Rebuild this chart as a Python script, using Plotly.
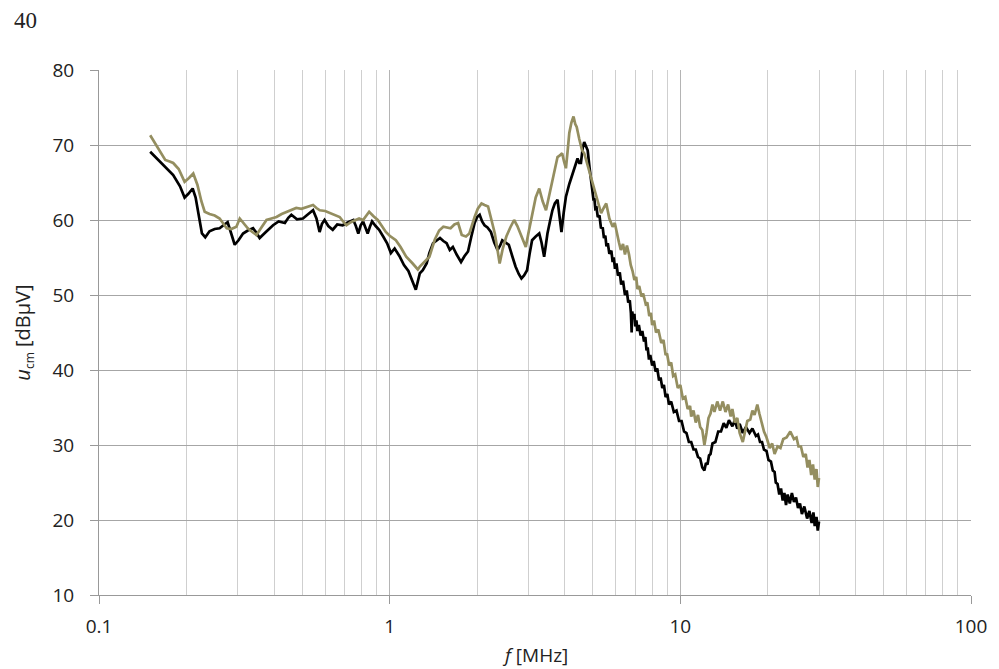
import plotly.graph_objects as go

# ---------------- data ----------------
black_f = [0.150, 0.160, 0.170, 0.180, 0.190, 0.197, 0.203, 0.210, 0.215, 0.220, 0.226, 0.232, 0.240, 0.250,
           0.260, 0.270, 0.277, 0.285, 0.293, 0.302, 0.313, 0.325, 0.339, 0.348, 0.357, 0.375, 0.397, 0.415,
           0.436, 0.448, 0.459, 0.480, 0.503, 0.525, 0.545, 0.560, 0.574, 0.585, 0.597, 0.615, 0.637, 0.660,
           0.689, 0.720, 0.750, 0.765, 0.780, 0.795, 0.810, 0.825, 0.840, 0.855, 0.870, 0.895, 0.920, 0.950,
           0.980, 1.01, 1.04, 1.08, 1.12, 1.16, 1.20, 1.23, 1.27, 1.30, 1.34, 1.37, 1.41, 1.45, 1.49, 1.53,
           1.57, 1.61, 1.65, 1.70, 1.76, 1.81, 1.86, 1.91, 1.96, 2.00, 2.04, 2.08, 2.12, 2.17, 2.23, 2.29,
           2.35, 2.40, 2.44, 2.50, 2.57, 2.64, 2.71, 2.78, 2.84, 2.90, 2.97, 3.03, 3.09, 3.18, 3.27, 3.33,
           3.40, 3.45, 3.49, 3.56, 3.63, 3.70, 3.78, 3.84, 3.90, 3.97, 4.04, 4.15, 4.26, 4.35, 4.43, 4.49,
           4.55, 4.61, 4.67, 4.74, 4.80, 4.87, 4.93,
           5.00, 5.03, 5.06, 5.10, 5.15, 5.20, 5.27, 5.33, 5.41, 5.46, 5.52, 5.57, 5.63, 5.70, 5.79, 5.85,
           5.90, 5.96, 6.03, 6.10, 6.19, 6.26, 6.35, 6.45, 6.54, 6.62, 6.70, 6.76, 6.80, 6.83, 6.89, 6.95,
           7.00, 7.06, 7.12, 7.20, 7.30, 7.40, 7.50, 7.58, 7.65, 7.72, 7.80, 7.88, 8.00, 8.10, 8.22, 8.33,
           8.45, 8.55, 8.67, 8.78, 8.90, 9.02, 9.14, 9.30, 9.50, 9.70, 9.90, 10.1, 10.3, 10.5, 10.7, 10.9,
           11.1, 11.3, 11.5, 11.7, 11.9, 12.1, 12.25, 12.4, 12.55, 12.7, 12.9, 13.2, 13.5, 13.8, 14.1, 14.4,
           14.7, 15.1, 15.4, 15.7, 16.0, 16.4, 16.8, 17.3, 17.7, 18.2, 18.5, 18.8, 19.1, 19.4, 19.8, 20.1,
           20.5, 20.8, 21.1, 21.3, 21.6, 21.9, 22.2, 22.5, 22.8, 23.1, 23.4, 23.8, 24.2, 24.6, 25.0, 25.4,
           25.8, 26.2, 26.7, 27.3, 27.8, 28.3, 28.7, 29.0, 29.4, 29.7, 30.0]
black_db = [69.1, 68.0, 67.0, 66.0, 64.5, 63.0, 63.5, 64.2, 63.0, 60.5, 58.2, 57.7, 58.5, 58.8,
            58.9, 59.4, 59.7, 58.2, 56.7, 57.3, 58.2, 58.6, 58.9, 58.3, 57.6, 58.4, 59.3, 59.8,
            59.6, 60.3, 60.7, 60.1, 60.2, 60.8, 61.3, 60.2, 58.4, 59.5, 60.0, 59.2, 58.7, 59.4,
            59.3, 59.7, 60.0, 59.2, 58.2, 59.3, 59.8, 59.0, 58.2, 59.1, 59.8, 59.2, 58.7, 57.8,
            56.9, 55.6, 56.2, 55.2, 54.0, 53.2, 51.8, 50.7, 52.9, 53.3, 54.2, 55.6, 56.9, 57.3, 57.6, 57.2,
            56.9, 56.0, 56.4, 55.4, 54.4, 55.2, 55.8, 57.8, 59.6, 60.4, 60.7, 59.8, 59.3, 59.0, 58.4, 57.0,
            56.0, 56.6, 57.3, 57.0, 56.7, 55.2, 53.8, 52.8, 52.2, 52.6, 53.3, 55.5, 57.3, 57.8, 58.2, 57.0,
            55.1, 56.8, 58.2, 59.8, 61.3, 62.2, 62.7, 60.5, 58.4, 61.0, 63.1, 64.8, 66.2, 67.5, 68.2, 67.6,
            67.6, 69.5, 70.4, 69.8, 69.3, 67.0, 65.1,
            63.5, 62.6, 62.9, 61.5, 61.6, 60.4, 60.6, 59.0, 58.9, 57.6, 57.9, 56.5, 56.9, 55.5, 55.9, 54.4,
            55.0, 53.5, 54.2, 52.6, 53.0, 51.4, 51.9, 50.0, 50.6, 49.0, 49.3, 47.6, 45.0, 47.8, 46.8, 47.5,
            45.8, 46.6, 45.2, 46.0, 44.6, 45.2, 43.8, 44.4, 42.6, 43.0, 41.4, 42.0, 40.6, 41.2, 39.8, 40.2,
            38.6, 39.0, 37.6, 38.0, 36.4, 36.8, 35.4, 35.8, 34.4, 34.6, 33.2, 33.2, 31.8, 31.6, 30.4, 30.4,
            29.4, 29.4, 28.4, 28.2, 27.0, 26.6, 27.6, 27.4, 28.6, 28.8, 30.2, 30.4, 31.8, 31.8, 32.9, 32.3,
            33.3, 32.5, 33.3, 32.2, 32.8, 31.6, 32.4, 31.6, 32.2, 31.2, 31.4, 30.4, 30.4, 29.4, 29.2, 28.0,
            27.8, 26.6, 26.4, 25.0, 24.8, 23.4, 24.2, 22.6, 23.6, 22.0, 23.4, 22.2, 23.6, 22.4, 23.0, 21.6,
            22.2, 20.8, 21.8, 20.2, 21.2, 19.6, 21.0, 19.2, 20.4, 18.6, 19.8]

tan_f = [0.150, 0.160, 0.169, 0.175, 0.180, 0.188, 0.197, 0.204, 0.211, 0.218, 0.225, 0.231, 0.240, 0.250,
         0.260, 0.268, 0.275, 0.285, 0.297, 0.305, 0.315, 0.325, 0.337, 0.348, 0.362, 0.377, 0.392, 0.408,
         0.425, 0.442, 0.460, 0.477, 0.497, 0.517, 0.532, 0.545, 0.560, 0.575, 0.600, 0.630, 0.652, 0.673,
         0.692, 0.710, 0.735, 0.760, 0.785, 0.810, 0.830, 0.850, 0.880, 0.910, 0.940, 0.970, 1.00, 1.05,
         1.09, 1.14, 1.20, 1.25, 1.27, 1.32, 1.37, 1.43, 1.48, 1.53, 1.58, 1.62, 1.67, 1.72, 1.77, 1.83,
         1.88, 1.92, 1.96, 2.01, 2.07, 2.12, 2.18, 2.24, 2.30, 2.35, 2.39, 2.45, 2.52, 2.60, 2.68, 2.75,
         2.82, 2.88, 2.94, 3.00, 3.09, 3.18, 3.27, 3.36, 3.45, 3.54, 3.63, 3.70, 3.78, 3.85, 3.92, 3.98,
         4.04, 4.10, 4.15, 4.22, 4.29, 4.35, 4.40, 4.49, 4.59, 4.67, 4.80, 4.93, 5.03, 5.14, 5.24, 5.34,
         5.45, 5.56, 5.70, 5.85, 5.95, 6.05, 6.15, 6.24, 6.35, 6.45, 6.55, 6.66, 6.75, 6.85, 6.95, 7.05,
         7.12, 7.22, 7.35, 7.45, 7.60, 7.70, 7.82, 7.92, 8.00, 8.12, 8.25, 8.40, 8.60, 8.75, 8.90, 9.00,
         9.15, 9.30, 9.45, 9.60, 9.80, 10.0, 10.2, 10.4, 10.6, 10.8, 10.9, 11.1, 11.3, 11.5, 11.7, 11.9,
         12.1, 12.3, 12.5, 12.7, 12.9, 13.1, 13.4, 13.7, 14.0, 14.3, 14.6, 14.9, 15.1, 15.4, 15.7, 16.0,
         16.4, 16.7, 17.0, 17.4, 17.7, 18.0, 18.4, 18.7, 19.0, 19.4, 19.8, 20.3, 20.7, 21.1, 21.6, 22.1,
         22.6, 23.2, 23.9, 24.6, 25.1, 25.5, 26.0, 26.5, 27.0, 27.4, 27.8, 28.2, 28.6, 29.0, 29.4, 29.7, 30.0]
tan_db = [71.3, 69.5, 68.0, 67.8, 67.6, 66.8, 65.1, 65.6, 66.2, 64.7, 62.5, 61.1, 60.8, 60.6,
          60.2, 59.5, 58.9, 58.8, 59.1, 60.2, 59.5, 58.9, 58.4, 58.0, 59.0, 60.0, 60.2, 60.4,
          60.8, 61.1, 61.3, 61.6, 61.5, 61.7, 61.8, 62.0, 61.6, 61.3, 61.2, 60.9, 60.6, 60.4,
          59.8, 59.3, 59.7, 60.0, 60.2, 60.0, 60.6, 61.1, 60.5, 60.0, 59.2, 58.4, 57.9, 57.3,
          56.4, 55.1, 54.2, 53.4, 53.8, 54.4, 55.1, 57.4, 58.6, 59.1, 59.0, 58.9, 59.4, 59.6, 58.0, 57.8,
          58.2, 59.4, 60.4, 61.5, 62.2, 62.0, 61.8, 60.0, 58.2, 56.0, 54.2, 56.2, 57.8, 59.0, 60.0, 59.2,
          58.2, 57.2, 56.4, 58.2, 60.9, 63.0, 64.2, 62.5, 61.3, 63.4, 65.3, 67.0, 68.4, 68.6, 68.9, 67.8,
          66.9, 69.4, 71.6, 73.0, 73.8, 72.8, 72.4, 70.8, 69.3, 68.9, 67.2, 65.8, 64.4, 63.1, 61.8, 60.9,
          61.6, 62.2, 60.2, 59.1, 59.6, 58.0, 57.0, 56.0, 56.8, 55.4, 56.6, 55.4, 54.0, 53.2, 52.0, 52.4,
          50.8, 51.2, 49.8, 50.2, 48.8, 49.0, 47.2, 47.6, 46.0, 46.6, 45.0, 45.4, 43.6, 44.0, 42.0, 42.2,
          40.6, 41.0, 39.2, 39.4, 37.6, 38.0, 36.2, 36.4, 34.8, 35.2, 33.8, 34.6, 33.0, 34.0, 32.4, 32.0,
          30.0, 31.6, 33.6, 34.2, 35.4, 34.4, 35.8, 34.6, 35.8, 34.4, 35.4, 33.8, 34.8, 33.0, 33.6, 31.6,
          30.4, 31.8, 33.2, 33.4, 34.6, 34.0, 35.4, 34.2, 33.2, 31.8, 31.0, 29.6, 30.2, 28.8, 29.8, 29.6,
          30.8, 31.0, 31.8, 30.8, 31.0, 29.8, 29.8, 28.4, 28.8, 27.0, 28.0, 26.0, 27.4, 25.4, 26.8, 24.4, 25.6]

x_tickvals = [0.1, 1, 10, 100]
x_ticktext = ["0.1", "1", "10", "100"]
x_minor = [0.2, 0.3, 0.4, 0.5, 0.6, 0.7, 0.8, 0.9, 2, 3, 4, 5, 6, 7, 8, 9, 20, 30, 40, 50, 60, 70, 80, 90]
y_tickvals = [10, 20, 30, 40, 50, 60, 70, 80]

# ---------------- figure ----------------
fig = go.Figure()
fig.add_trace(go.Scatter(x=black_f, y=black_db, mode="lines",
                         line=dict(color="#000000", width=2.7), showlegend=False))
fig.add_trace(go.Scatter(x=tan_f, y=tan_db, mode="lines",
                         line=dict(color="#948e60", width=2.7), showlegend=False))

tick_font = dict(family="Open Sans, Liberation Sans, sans-serif", size=19, color="#222222")

fig.update_xaxes(type="log", range=[-1, 2],
                 tickvals=x_tickvals, ticktext=x_ticktext,
                 ticks="outside", ticklen=8, tickcolor="#999999", tickwidth=1,
                 showgrid=True, gridcolor="#b4b4b4", gridwidth=1,
                 minor=dict(tickvals=x_minor, showgrid=True, gridcolor="#cfcfcf", gridwidth=1, ticks=""),
                 showline=True, linecolor="#999999", linewidth=1,
                 tickfont=tick_font, ticklabelstandoff=6, zeroline=False)
fig.update_yaxes(range=[10, 80], tickvals=y_tickvals,
                 ticks="outside", ticklen=8, tickcolor="#999999", tickwidth=1,
                 showgrid=True, gridcolor="#a6a6a6", gridwidth=1,
                 showline=True, linecolor="#999999", linewidth=1,
                 tickfont=tick_font, ticklabelstandoff=12, zeroline=False)

fig.add_annotation(text="<i>f</i> [MHz]", xref="paper", yref="paper", x=0.5, y=-0.114,
                   xanchor="center", yanchor="middle", showarrow=False,
                   font=dict(family="Open Sans, Liberation Sans, sans-serif", size=19, color="#222222"))
fig.add_annotation(text="<i>u</i><sub><span style='font-size:12px'>cm</span></sub> [dBµV]",
                   xref="paper", yref="paper", x=-0.087, y=0.5,
                   xanchor="center", yanchor="middle", showarrow=False, textangle=-90,
                   font=dict(family="Open Sans, Liberation Sans, sans-serif", size=20, color="#222222"))
fig.add_annotation(text="40", xref="paper", yref="paper", x=-0.0995, y=1.095,
                   xanchor="left", yanchor="middle", showarrow=False,
                   font=dict(family="Liberation Serif, DejaVu Serif, serif", size=23, color="#222222"))

fig.update_layout(width=991, height=661,
                  margin=dict(l=91, r=26, t=62, b=74),
                  paper_bgcolor="white", plot_bgcolor="white")

fig.write_html("out.html")
